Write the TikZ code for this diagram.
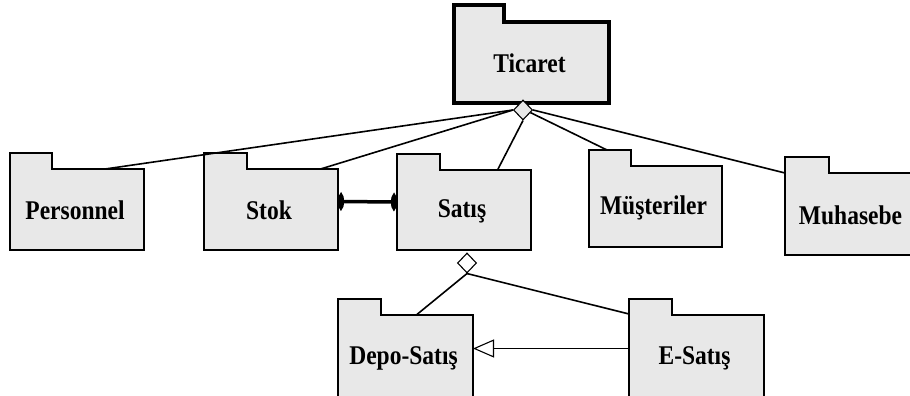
\documentclass[tikz,border=0pt]{standalone}
\usepackage{fontspec}
\setmainfont{Liberation Serif}
\usetikzlibrary{shapes.geometric,arrows.meta,calc}
\definecolor{pkgfill}{HTML}{E8E8E8}
\tikzset{
  pkgline/.style={draw=black,line width=1.8pt,fill=pkgfill,line join=miter},
  pkgthick/.style={draw=black,line width=3.5pt,fill=pkgfill,line join=miter},
  pkgtext/.style={font=\fontsize{23.5}{23.5}\selectfont\bfseries},
  link/.style={draw=black,line width=1.6pt},
  agg/.style={diamond,draw=black,line width=1.1pt,inner sep=0pt,minimum width=19pt,minimum height=20pt},
}
% name, x1, x2, tab right, tab top, body top, bottom, label, style
\newcommand\pkgbox[9]{%
  \draw[#9] (#2,#6) -- (#2,#5) -- (#4,#5) -- (#4,#6) -- (#3,#6) -- (#3,#7) -- (#2,#7) -- cycle;
  \coordinate (#1-tab) at (#2,#5);
  \node[inner sep=0pt,outer sep=0pt,minimum width={(#3-#2)*1pt},minimum height={(#7-#6)*1pt}]
    (#1) at ({(#2+#3)/2},{(#6+#7)/2}) {};
  \node[pkgtext] (#1-label) at ({(#2+#3)/2-2},{(#6+#7)/2+1}) {\scalebox{1}[1.15]{#8}};
}
\begin{document}
\begin{tikzpicture}[x=1pt,y=-1pt]
\useasboundingbox (0,0) rectangle (910,396);
\clip (0,0) rectangle (910,396);

\pkgbox{tic}{454}{609}{504}{5}{22}{103}{Ticaret}{pkgthick}
\pkgbox{per}{10}{144}{52}{153}{169}{250}{Personnel}{pkgline}
\pkgbox{stok}{204}{338}{247}{153}{169}{250}{Stok}{pkgline}
\pkgbox{sat}{397}{531}{440}{154}{170}{250}{Satış}{pkgline}
\pkgbox{mus}{589}{722}{631}{150}{166}{247}{Müşteriler}{pkgline}
\pkgbox{muh}{785}{920}{829}{157}{173}{255}{Muhasebe}{pkgline}
\pkgbox{dep}{338}{473}{381}{299}{315}{400}{Depo-Satış}{pkgline}
\pkgbox{es}{629}{764}{672}{299}{315}{400}{E-Satış}{pkgline}

\node[agg,fill=pkgfill] (d1) at (523,110) {};
\node[agg,fill=white] (d2) at (467,263) {};

% aggregation links from Ticaret
\draw[link] (d1.west) -- ($(per.north west)!0.71!(per.north east)$);
\draw[link] (d1.west) -- ($(stok.north west)!0.87!(stok.north east)$);
\draw[link] (d1.south) -- ($(sat.north west)!0.75!(sat.north east)$);
\draw[link] ($(d1.south east)!0.5!(d1.east)$) -- ($(mus-tab)+(18,0)$);
\draw[link] (d1.east) -- (muh.north west);

% aggregation links from Satış
\draw[link] (d2.south) -- ($(dep.north west)!0.58!(dep.north east)$);
\draw[link] (d2.south) -- ($(es.north west)+(0,-1)$);

% Stok -- Satış
\draw[line width=3.5pt,{Ellipse[length=6pt,width=16pt]}-{Ellipse[length=6pt,width=16pt]}]
  ($(stok.east)+(0,-8)$) -- ($(sat.west)+(0,-8)$);

% generalization
\draw[link,-{Triangle[open,length=21pt,width=18pt,line width=1.1pt]}]
  ($(es.west)+(0,-9)$) -- ($(dep.east)+(0,-9)$);
\end{tikzpicture}
\end{document}
